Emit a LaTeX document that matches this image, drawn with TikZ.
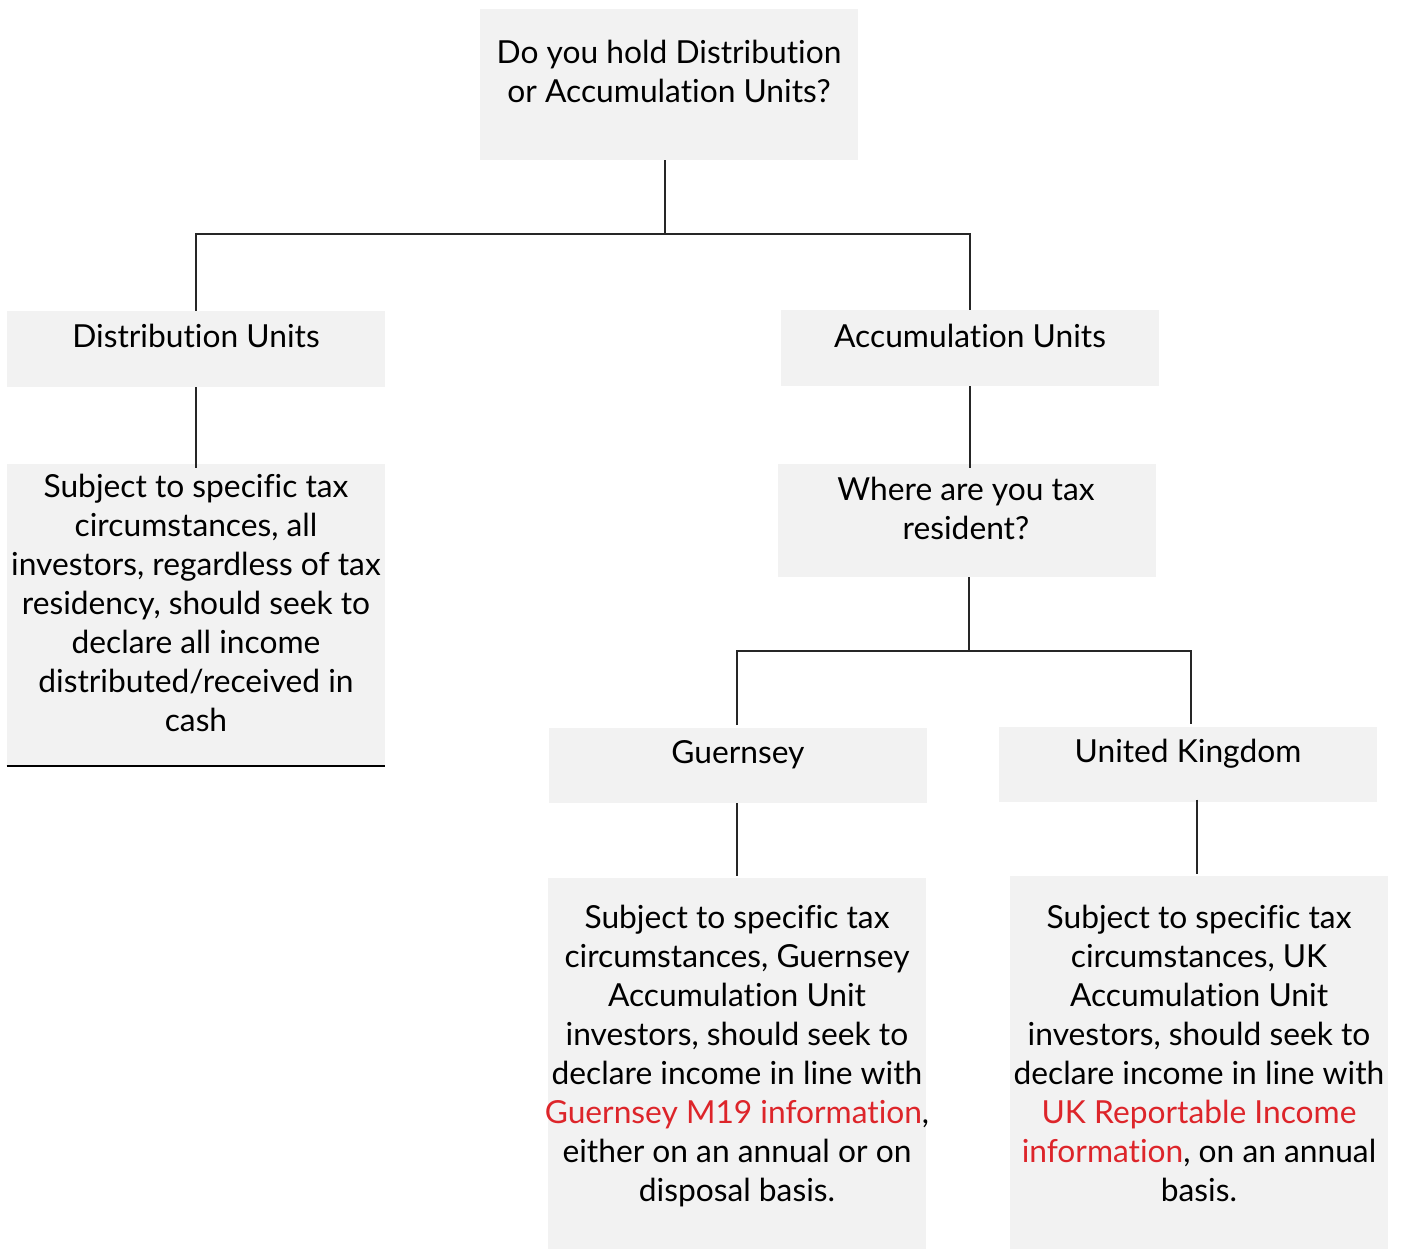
\documentclass[tikz,border=0pt]{standalone}
\usepackage{fontspec}
\setmainfont[Ligatures={NoCommon,NoRare}]{Lato}
\definecolor{boxgray}{HTML}{F2F2F2}
\definecolor{linkred}{RGB}{221,37,42}
\begin{document}
\begin{tikzpicture}[x=0.75pt,y=-0.75pt,
  box/.style={draw=none,fill=boxgray,inner sep=0pt,minimum width=283.5pt},
  txt/.style={align=center,inner sep=0pt,font=\fontsize{23.8}{29.25}\selectfont},
  conn/.style={draw=black!85,line width=0.8pt}]
\useasboundingbox (0,0) rectangle (1403,1250);
% boxes
\node[box,minimum height=113.25pt] (top) at (669,84.5) {};
\node[box,minimum height=57pt] (dist) at (196,349) {};
\node[box,minimum height=57pt] (acc) at (970,348) {};
\node[box,minimum height=226.5pt] (disttext) at (196,615) {};
\node[box,minimum height=84.75pt] (where) at (967,520.5) {};
\node[box,minimum height=56.25pt] (guer) at (738,765.5) {};
\node[box,minimum height=56.25pt] (uk) at (1188,764.5) {};
\node[box,minimum height=278.25pt] (guertext) at (737,1063.5) {};
\node[box,minimum height=279.75pt] (uktext) at (1199,1062.5) {};
% texts
\node[txt] (ttop) at (669,71) {Do you hold Distribution\\or Accumulation Units?};
\node[txt] (tdist) at (196,336) {Distribution Units};
\node[txt] (tacc) at (970,336) {Accumulation Units};
\node[txt] (tdisttext) at (196,603) {Subject to specific tax\\circumstances, all\\investors, regardless of tax\\residency, should seek to\\declare all income\\distributed/received in\\cash};
\node[txt] (twhere) at (966,508) {Where are you tax\\resident?};
\node[txt] (tguer) at (738,754.5) {Guernsey};
\node[txt] (tuk) at (1188,753.5) {United Kingdom};
\node[txt] (tguertext) at (737,1056) {Subject to specific tax\\circumstances, Guernsey\\Accumulation Unit\\investors, should seek to\\declare income in line with\\\textcolor{linkred}{Guernsey M19 information},\\either on an annual or on\\disposal basis.};
\node[txt] (tuktext) at (1199,1053) {Subject to specific tax\\circumstances, UK\\Accumulation Unit\\investors, should seek to\\declare income in line with\\\textcolor{linkred}{UK Reportable Income}\\\textcolor{linkred}{information}, on an annual\\basis.};
% connectors
\coordinate (j1) at (665,234);
\coordinate (j2) at (969,651);
\coordinate (xg) at (737,0);
\coordinate (xu) at (1191,0);
\coordinate (xk) at (1197,0);
\draw[conn] (top.south -| j1) -- (j1);
\draw[conn] (dist.north) -- (dist.north |- j1) -- (acc.north |- j1) -- (acc.north);
\draw[conn] (dist.south) -- ([yshift=-3pt]disttext.north);
\draw[conn] (acc.south) -- ([yshift=-3pt]where.north -| acc.south);
\draw[conn] (where.south -| j2) -- (j2);
\draw[conn] ([yshift=2pt]guer.north -| xg) -- (j2 -| xg) -- (j2 -| xu) -- ([yshift=2pt]uk.north -| xu);
\draw[conn] (guer.south -| xg) -- ([yshift=1pt]guertext.north -| xg);
\draw[conn] ([yshift=2pt]uk.south -| xk) -- ([yshift=1pt]uktext.north -| xk);
\draw[line width=1.6pt] (disttext.south west) -- (disttext.south east);
\end{tikzpicture}
\end{document}
